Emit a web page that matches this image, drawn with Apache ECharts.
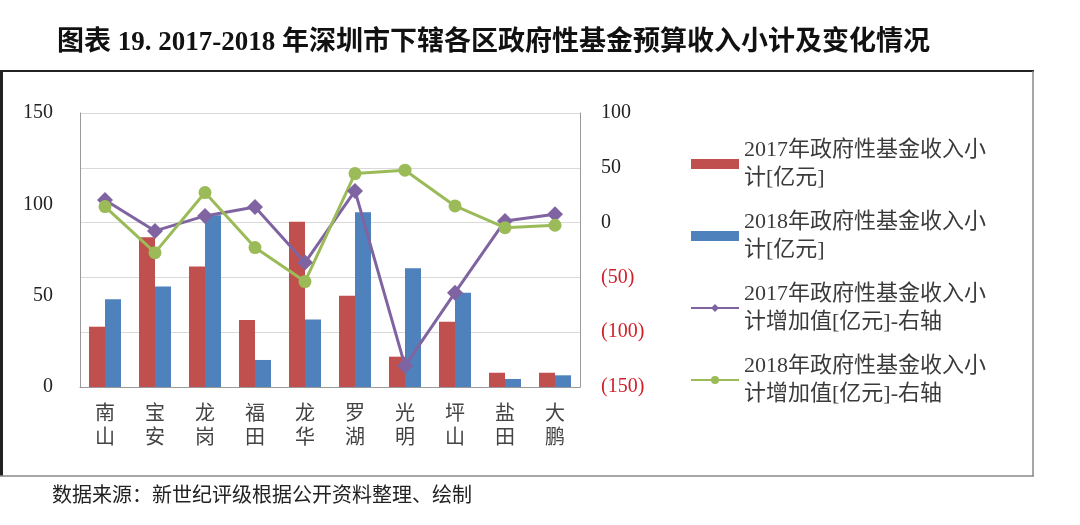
<!DOCTYPE html>
<html><head><meta charset="utf-8">
<script src="https://cdn.jsdelivr.net/npm/echarts@6/dist/echarts.min.js"></script>
<style>html,body{margin:0;padding:0;background:#fff;}#c{width:1080px;height:525px;}</style>
</head><body><div id="c"></div>
<script>
const categories = ['南山','宝安','龙岗','福田','龙华','罗湖','光明','坪山','盐田','大鹏'];
const income2017 = [33, 82, 66, 36.7, 90.5, 50, 16.6, 35.7, 7.8, 7.8];
const income2018 = [48, 55, 94, 14.8, 37, 95.6, 65, 51.6, 4.4, 6.4];
const change2017 = [20.7, -7.6, 6.1, 14.3, -36.5, 28.9, -130.7, -63.9, 1.5, 7.6];
const change2018 = [14.6, -27.4, 27.4, -22.8, -53.8, 44.7, 47.8, 15.2, -4.6, -2.4];
const seriesNames = [
  '2017年政府性基金收入小\n计[亿元]',
  '2018年政府性基金收入小\n计[亿元]',
  '2017年政府性基金收入小\n计增加值[亿元]-右轴',
  '2018年政府性基金收入小\n计增加值[亿元]-右轴'
];
const titleText = '图表 19. 2017-2018 年深圳市下辖各区政府性基金预算收入小计及变化情况';
const sourceText = '数据来源：新世纪评级根据公开资料整理、绘制';

const serif = '"Liberation Serif","Noto Sans CJK SC",serif';
const chart = echarts.init(document.getElementById('c'));
chart.setOption({
  backgroundColor: '#fff',
  animation: false,
  title: {
    text: titleText, left: 52, top: 25,
    textStyle: {fontFamily: serif, fontSize: 27, fontWeight: 'bold', color: '#111'}
  },
  graphic: [
    {type: 'line', shape: {x1: 0, y1: 71, x2: 1034, y2: 71}, style: {stroke: '#222', lineWidth: 2}},
    {type: 'line', shape: {x1: 1.5, y1: 70, x2: 1.5, y2: 476}, style: {stroke: '#222', lineWidth: 3}},
    {type: 'line', shape: {x1: 1033, y1: 71, x2: 1033, y2: 476}, style: {stroke: '#888', lineWidth: 1.5}},
    {type: 'line', shape: {x1: 0, y1: 476, x2: 1034, y2: 476}, style: {stroke: '#888', lineWidth: 1.5}},
    {type: 'text', left: 52, top: 484, style: {text: sourceText, fontSize: 20, fill: '#222', fontFamily: '"Noto Sans CJK SC",sans-serif'}}
  ],
  legend: {
    orient: 'vertical', left: 685, top: 117, itemGap: -12,
    itemWidth: 48, itemHeight: 10,
    textStyle: {fontFamily: serif, fontSize: 22, color: '#3a3a3a', lineHeight: 28, padding: [28, 0, 0, 0]},
    data: [
      {name: seriesNames[0], icon: 'rect'},
      {name: seriesNames[1], icon: 'rect'},
      {name: seriesNames[2]},
      {name: seriesNames[3]}
    ]
  },
  grid: {left: 80, right: 500, top: 113, bottom: 138},
  xAxis: {
    type: 'category', data: categories,
    axisLine: {lineStyle: {color: '#999'}},
    axisTick: {show: false},
    axisLabel: {
      formatter: v => v.split('').join('\n'),
      fontSize: 20, lineHeight: 24, color: '#444', margin: 13,
      fontFamily: '"Noto Sans CJK SC",sans-serif'
    }
  },
  yAxis: [
    {
      type: 'value', min: 0, max: 150, interval: 50,
      axisLine: {show: true, lineStyle: {color: '#999'}},
      axisTick: {show: false}, splitLine: {show: false},
      axisLabel: {fontFamily: serif, fontSize: 20, color: '#222', margin: 27}
    },
    {
      type: 'value', min: -150, max: 100, interval: 50,
      axisLine: {show: true, lineStyle: {color: '#999'}},
      axisTick: {show: false},
      splitLine: {lineStyle: {color: '#d9d9d9'}},
      axisLabel: {
        fontFamily: serif, fontSize: 20, margin: 21,
        formatter: v => v < 0 ? '(' + (-v) + ')' : String(v),
        color: v => (Number(v) < 0 ? '#d0202a' : '#222')
      }
    }
  ],
  series: [
    {name: seriesNames[0], type: 'bar', data: income2017, barWidth: 16, barGap: '0%', itemStyle: {color: '#c0504d'}},
    {name: seriesNames[1], type: 'bar', data: income2018, barWidth: 16, barGap: '0%', itemStyle: {color: '#4f81bd'}},
    {name: seriesNames[2], type: 'line', yAxisIndex: 1, data: change2017, symbol: 'diamond', symbolSize: 16,
      lineStyle: {color: '#8064a2', width: 3}, itemStyle: {color: '#8064a2'}},
    {name: seriesNames[3], type: 'line', yAxisIndex: 1, data: change2018, symbol: 'circle', symbolSize: 13,
      lineStyle: {color: '#9bbb59', width: 3}, itemStyle: {color: '#9bbb59'}}
  ]
});
</script></body></html>
